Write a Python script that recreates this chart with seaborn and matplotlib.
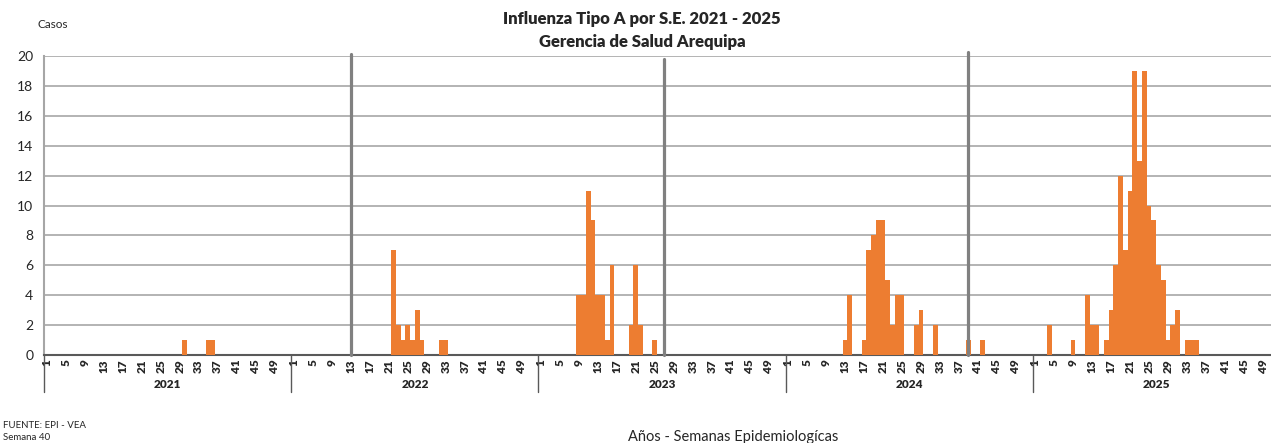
import numpy as np
import pandas as pd
import matplotlib
matplotlib.use("Agg")
import matplotlib.pyplot as plt
import matplotlib.transforms as mtransforms
import seaborn as sns

################################################
#                 Data
################################################
years = [2021, 2022, 2023, 2024, 2025]
n_weeks = 52
tick_weeks = list(range(1, 50, 4))

weeks_2021 = [30, 35, 36]
cases_2021 = [1, 1, 1]
weeks_2022 = [22, 23, 24, 25, 26, 27, 28, 32, 33]
cases_2022 = [7, 2, 1, 2, 1, 3, 1, 1, 1]
weeks_2023 = [9, 10, 11, 12, 13, 14, 15, 16, 20, 21, 22, 25]
cases_2023 = [4, 4, 11, 9, 4, 4, 1, 6, 2, 6, 2, 1]
weeks_2024 = [13, 14, 17, 18, 19, 20, 21, 22, 23, 24, 25, 28, 29, 32, 39, 42]
cases_2024 = [1, 4, 1, 7, 8, 9, 9, 5, 2, 4, 4, 2, 3, 2, 1, 1]
weeks_2025 = [4, 9, 12, 13, 14, 16, 17, 18, 19, 20, 21, 22, 23, 24, 25, 26, 27,
              28, 29, 30, 31, 33, 34, 35]
cases_2025 = [2, 1, 4, 2, 2, 1, 3, 6, 12, 7, 11, 19, 13, 19, 10, 9, 6,
              5, 1, 2, 3, 1, 1, 1]

# grey marker lines (year, week, top)
line_years = [2022, 2023, 2024]
line_weeks = [13, 27, 39]
line_tops = [20.15, 19.8, 20.25]

################################################
#          Build the long table
################################################
all_weeks = [weeks_2021, weeks_2022, weeks_2023, weeks_2024, weeks_2025]
all_cases = [cases_2021, cases_2022, cases_2023, cases_2024, cases_2025]

rows = []
for i, yr in enumerate(years):
    serie = dict(zip(all_weeks[i], all_cases[i]))
    for w in range(1, n_weeks + 1):
        rows.append({"anio": yr, "semana": w,
                     "pos": i * n_weeks + (w - 1),
                     "casos": serie.get(w, 0)})
df = pd.DataFrame(rows)

################################################
#                 Plot
################################################
sns.set_style("white")
plt.rcParams["font.family"] = ["Lato", "DejaVu Sans"]

fig = plt.figure(figsize=(12.71, 4.43), dpi=100)
ax = fig.add_axes([44.3 / 1271, 88 / 443, 1235.4 / 1271, 299 / 443])

sns.barplot(data=df, x="pos", y="casos", native_scale=True, width=1.0,
            color="#ED7D31", saturation=1, linewidth=0, ax=ax, zorder=3)

ax.set_xlim(-0.5, len(years) * n_weeks - 0.5)
ax.set_ylim(0, 20)
ax.set_yticks(range(0, 21, 2))
ax.tick_params(axis="y", labelsize=10, length=4, color="#a6a6a6", pad=4)
ax.yaxis.grid(True, color="#b3b3b3", linewidth=1.4, zorder=0)
ax.set_axisbelow(True)

for s in ["top", "right"]:
    ax.spines[s].set_visible(False)
ax.spines["left"].set_color("#a6a6a6")
ax.spines["left"].set_linewidth(1.5)
ax.spines["bottom"].set_color("#595959")
ax.spines["bottom"].set_linewidth(1.5)

# week ticks
tpos, tlab = [], []
for i in range(len(years)):
    for w in tick_weeks:
        tpos.append(i * n_weeks + w - 1)
        tlab.append(str(w))
ax.set_xticks(tpos)
ax.set_xticklabels(tlab, rotation=90, fontsize=8.5, fontweight="heavy")
ax.tick_params(axis="x", length=0, pad=3)
ax.set_xlabel("")
ax.set_ylabel("")

# year separators and labels under the axis
trans = mtransforms.blended_transform_factory(ax.transData, ax.transAxes)
for i, yr in enumerate(years):
    x0 = i * n_weeks - 0.5
    ax.plot([x0, x0], [0, -0.125], transform=trans, color="#595959",
            linewidth=1.0, clip_on=False)
    ax.text(i * n_weeks + n_weeks / 2 - 0.5, -0.10, str(yr), transform=trans,
            ha="center", va="center", fontsize=8.5, fontweight="heavy")

# grey vertical marker lines
for yr, w, top in zip(line_years, line_weeks, line_tops):
    x = years.index(yr) * n_weeks + w - 1
    ax.plot([x, x], [0, top], color="#808080", linewidth=2.3,
            clip_on=False, zorder=4)

# texts
fig.text(642 / 1271, 1 - 19 / 443, "Influenza Tipo A por S.E. 2021 - 2025",
         ha="center", va="center", fontsize=12, fontweight="heavy")
fig.text(642 / 1271, 1 - 42 / 443, "Gerencia de Salud Arequipa",
         ha="center", va="center", fontsize=12, fontweight="heavy")
fig.text(38 / 1271, 1 - 25 / 443, "Casos", ha="left", va="center", fontsize=8.5)
fig.text(3 / 1271, 1 - 425 / 443, "FUENTE: EPI - VEA", ha="left",
         va="center", fontsize=7)
fig.text(3 / 1271, 1 - 437 / 443, "Semana 40", ha="left", va="center",
         fontsize=7)
fig.text(733 / 1271, 1 - 437 / 443, "Años - Semanas Epidemiologícas",
         ha="center", va="center", fontsize=10.5)

fig.savefig("out.png", dpi=100)
plt.close(fig)
